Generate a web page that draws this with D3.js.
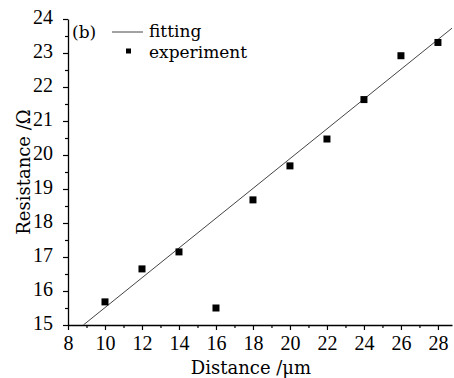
<!DOCTYPE html>
<html>
<head>
<meta charset="utf-8">
<script src="https://cdn.jsdelivr.net/npm/d3@7"></script>
<style>
  body { margin: 0; background: #fff; }
</style>
</head>
<body>
<div id="chart"></div>
<script>
// measured data (distance in um, resistance in ohm)
var distance = [10, 12, 14, 16, 18, 20, 22, 24, 26, 28];
var resistance = [15.68, 16.65, 17.15, 15.5, 18.68, 19.68, 20.47, 21.63, 22.92, 23.31];
// end points of the fitted line
var fitX = [8.83, 28.76];
var fitY = [15.0, 23.73];
var xTicks = [8, 10, 12, 14, 16, 18, 20, 22, 24, 26, 28];
var yTicks = [15, 16, 17, 18, 19, 20, 21, 22, 23, 24];

var tickFont = "'Liberation Serif', serif";
var labelFont = "'DejaVu Serif', 'Liberation Serif', serif";

var margin = {top: 19, right: 2, bottom: 53, left: 68},
    width = 454 - margin.left - margin.right,
    height = 378 - margin.top - margin.bottom;

var svg = d3.select("#chart")
  .append("svg")
    .attr("width", 454)
    .attr("height", 378)
  .append("g")
    .attr("transform", "translate(" + margin.left + "," + margin.top + ")");

var x = d3.scaleLinear().domain([8, 28.76]).range([0, width]);
var y = d3.scaleLinear().domain([15, 24]).range([height, 0]);

// minor ticks
var xMinor = d3.range(9, 29, 2);
var yMinor = d3.range(15.5, 24, 1);

svg.append("g")
  .attr("transform", "translate(0," + height + ")")
  .call(d3.axisBottom(x).tickValues(xMinor).tickSize(3).tickFormat(""))
  .call(function(g) { g.select(".domain").remove(); });
svg.append("g")
  .call(d3.axisLeft(y).tickValues(yMinor).tickSize(3).tickFormat(""))
  .call(function(g) { g.select(".domain").remove(); });

// X axis
var xAxis = svg.append("g")
  .attr("transform", "translate(0," + height + ")")
  .call(d3.axisBottom(x).tickValues(xTicks).tickSize(5).tickSizeOuter(0).tickPadding(6));
xAxis.attr("font-family", tickFont).attr("font-size", 20);
xAxis.selectAll("text").attr("dy", "0.72em");

// Y axis
var yAxis = svg.append("g")
  .call(d3.axisLeft(y).tickValues(yTicks).tickSize(5).tickSizeOuter(0).tickPadding(10));
yAxis.attr("font-family", tickFont).attr("font-size", 20);
yAxis.selectAll("text").attr("dy", "0.2em");

svg.selectAll(".domain").attr("stroke-width", 1.3);
svg.selectAll(".tick line").attr("stroke-width", 1.2);

// fitted line
svg.append("defs").append("clipPath").attr("id", "clip")
  .append("rect").attr("width", width).attr("height", height);
svg.append("line")
  .attr("clip-path", "url(#clip)")
  .attr("x1", x(fitX[0])).attr("y1", y(fitY[0]))
  .attr("x2", x(fitX[1])).attr("y2", y(fitY[1]))
  .attr("stroke", "#444")
  .attr("stroke-width", 1);

// points
var s = 7;
svg.selectAll("mypoint")
  .data(distance)
  .enter()
  .append("rect")
    .attr("x", function(d) { return x(d) - s / 2; })
    .attr("y", function(d, i) { return y(resistance[i]) - s / 2; })
    .attr("width", s)
    .attr("height", s)
    .attr("fill", "#000");

var labels = svg.append("g").attr("font-family", labelFont).attr("font-size", 17);

// axis titles
labels.append("text")
  .attr("x", width / 2 - 9)
  .attr("y", height + 49)
  .attr("text-anchor", "middle")
  .attr("font-size", 18)
  .text("Distance /\u03bcm");

labels.append("text")
  .attr("transform", "translate(-38," + (height / 2) + ") rotate(-90)")
  .attr("text-anchor", "middle")
  .attr("font-size", 18)
  .text("Resistance /\u03a9");

// legend
labels.append("text").attr("x", 4).attr("y", 19).text("(b)");
labels.append("line")
  .attr("x1", 44).attr("x2", 75).attr("y1", 13).attr("y2", 13)
  .attr("stroke", "#444").attr("stroke-width", 1);
labels.append("text").attr("x", 81).attr("y", 18).text("fitting");
labels.append("rect").attr("x", 58).attr("y", 29.5).attr("width", 5).attr("height", 5).attr("fill", "#000");
labels.append("text").attr("x", 81).attr("y", 38.5).text("experiment");
</script>
</body>
</html>
